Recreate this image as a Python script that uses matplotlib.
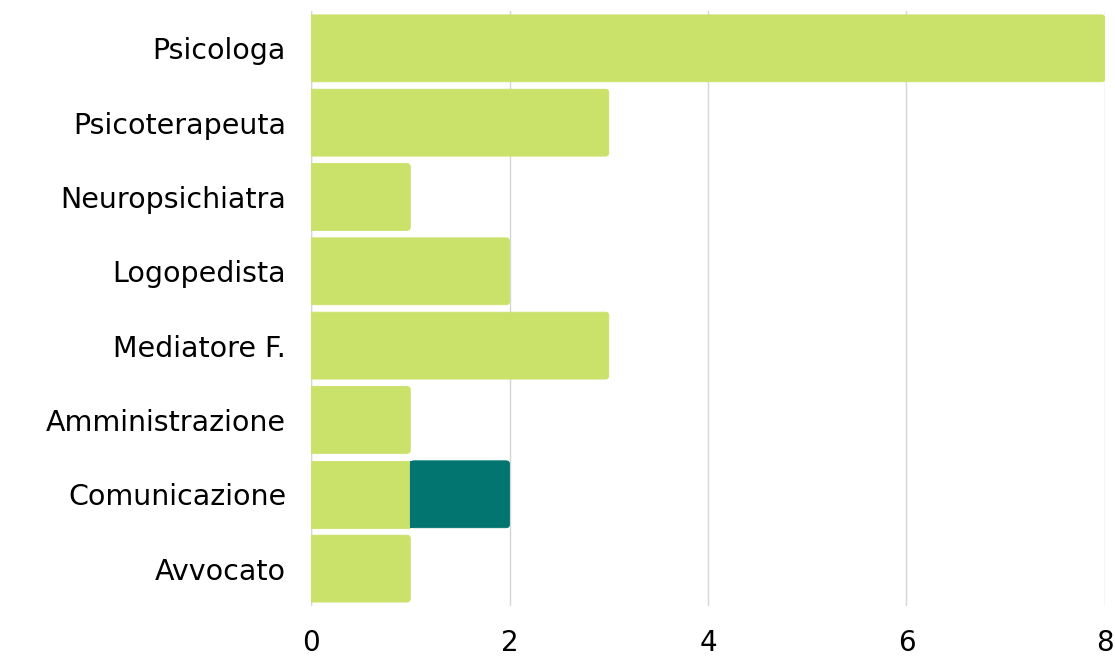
import numpy as np
import matplotlib.pyplot as plt
from matplotlib.patches import FancyBboxPatch

categories = ["Psicologa", "Psicoterapeuta", "Neuropsichiatra", "Logopedista",
              "Mediatore F.", "Amministrazione", "Comunicazione", "Avvocato"]
series_a = [8, 3, 1, 2, 3, 1, 1, 1]
series_b = [0, 0, 0, 0, 0, 0, 1, 0]
x_ticks = [0, 2, 4, 6, 8]

color_a = "#cbe26a"
color_b = "#027570"

plt.rcParams['font.family'] = ['DejaVu Sans']

fig = plt.figure(figsize=(11.15, 6.57), dpi=100)
ax = fig.add_axes([0.279, 0.078, 0.712, 0.905])

y = np.arange(len(categories))
bar_h = 0.9
r = 0.035  # corner radius in x units


def rounded_bar(x0, w, yc, color, clip_left):
    # clip_left: extend past 0 so the left corners are hidden by the axes clip
    start = x0 - (0.06 if clip_left else 0)
    width = w + (0.06 if clip_left else 0)
    p = FancyBboxPatch((start, yc - bar_h / 2), width, bar_h,
                       boxstyle=f"round,pad=0,rounding_size={r}",
                       mutation_aspect=1.35, facecolor=color,
                       edgecolor=color, linewidth=0.6, zorder=3)
    ax.add_patch(p)


for i in range(len(categories)):
    a, b = series_a[i], series_b[i]
    if b > 0:
        ax.barh(y[i], a, height=bar_h, color=color_a, edgecolor=color_a,
                linewidth=0.6, zorder=3)
        rounded_bar(a, b, y[i], color_b, False)
        ax.barh(y[i], 0.04, left=a, height=bar_h, color=color_b, zorder=4)
    else:
        rounded_bar(0, a, y[i], color_a, True)

ax.set_xlim(0, 8)
ax.set_ylim(len(categories) - 0.5, -0.5)
ax.set_yticks(y)
ax.set_yticklabels(categories, fontsize=20.5)
ax.set_xticks(x_ticks)
ax.set_xticklabels([str(t) for t in x_ticks], fontsize=20)
ax.tick_params(axis='both', length=0)
ax.tick_params(axis='y', pad=18)
ax.tick_params(axis='x', pad=17)
ax.grid(axis='x', color='#d6d6d6', linewidth=1, zorder=0)
for s in ax.spines.values():
    s.set_visible(False)
ax.axvline(0, color='#d6d6d6', linewidth=1, zorder=0)

fig.savefig("out.png", dpi=100)
